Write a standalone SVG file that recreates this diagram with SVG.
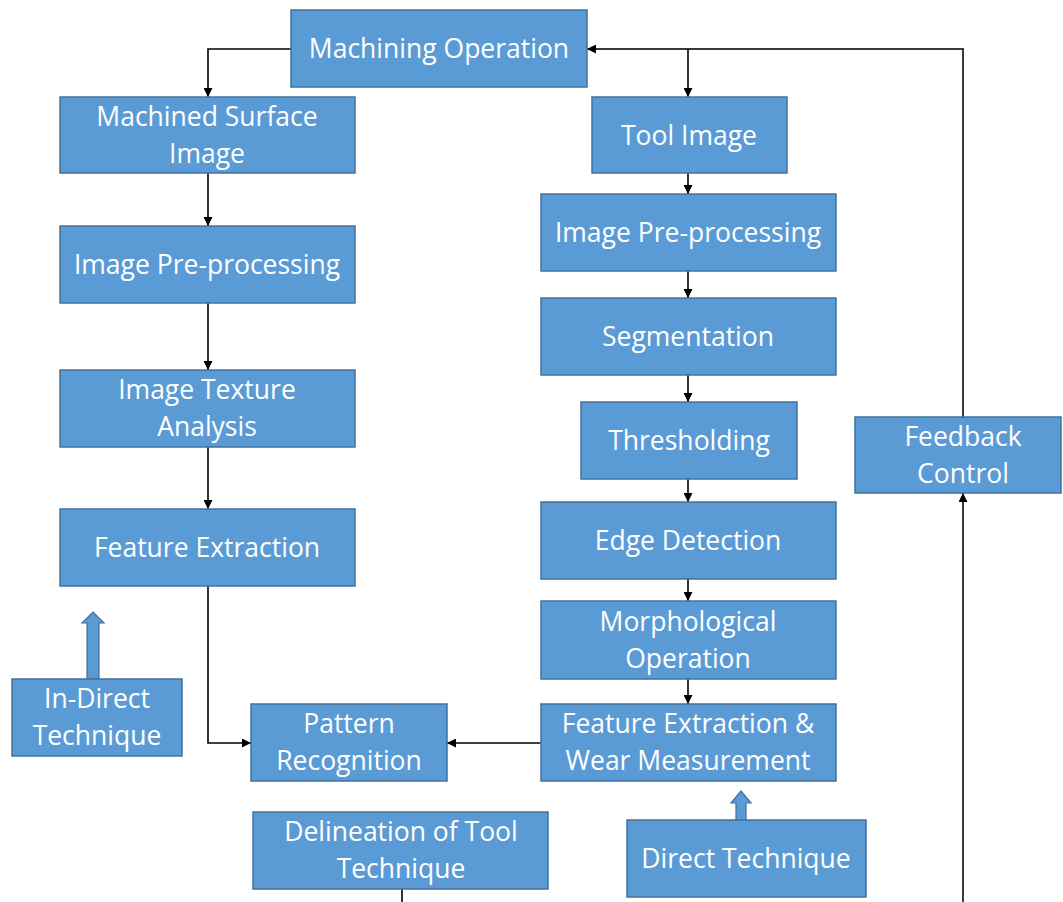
<svg xmlns="http://www.w3.org/2000/svg" width="1063" height="902" viewBox="0 0 1063 902">
<defs>
<marker id="ah" viewBox="0 0 10 10" refX="10" refY="5" markerWidth="9" markerHeight="9" markerUnits="userSpaceOnUse" orient="auto">
<path d="M0,0 L10,5 L0,10 Z" fill="#000"/>
</marker>
<style>
.box{fill:#5B9BD5;stroke:#41719C;stroke-width:1.5}
.t{font-family:"Open Sans","Liberation Sans",sans-serif;font-size:26.5px;fill:#fff;text-anchor:middle}
.c{fill:none;stroke:#000;stroke-width:1.6}
.c2{fill:none;stroke:#3a3a3a;stroke-width:2}
.big{fill:#5B9BD5;stroke:#41719C;stroke-width:1.2}
</style>
</defs>
<rect width="1063" height="902" fill="#fff"/>
<g id="connectors">
<polyline class="c" points="291,49 208,49 208,97" marker-end="url(#ah)"/>
<polyline class="c2" points="963,417 963,49 587,49" marker-end="url(#ah)"/>
<line class="c" x1="688" y1="49" x2="688" y2="97" marker-end="url(#ah)"/>
<line class="c" x1="208" y1="173" x2="208" y2="226" marker-end="url(#ah)"/>
<line class="c" x1="208" y1="303" x2="208" y2="370" marker-end="url(#ah)"/>
<line class="c" x1="208" y1="447" x2="208" y2="509" marker-end="url(#ah)"/>
<polyline class="c" points="208,586 208,743 251,743" marker-end="url(#ah)"/>
<line class="c" x1="688" y1="173" x2="688" y2="194" marker-end="url(#ah)"/>
<line class="c" x1="688" y1="271" x2="688" y2="298" marker-end="url(#ah)"/>
<line class="c" x1="688" y1="375" x2="688" y2="402" marker-end="url(#ah)"/>
<line class="c" x1="688" y1="479" x2="688" y2="502" marker-end="url(#ah)"/>
<line class="c" x1="688" y1="579" x2="688" y2="601" marker-end="url(#ah)"/>
<line class="c" x1="688" y1="679" x2="688" y2="704" marker-end="url(#ah)"/>
<line class="c" x1="541" y1="743" x2="447" y2="743" marker-end="url(#ah)"/>
<line class="c2" x1="963" y1="902" x2="963" y2="493" marker-end="url(#ah)"/>
<line class="c" x1="402" y1="889" x2="402" y2="902"/>
</g>
<g id="n-machining"><rect class="box" x="291" y="10" width="296" height="77"/><text class="t" x="439" y="58">Machining Operation</text></g>
<g id="n-surface"><rect class="box" x="60" y="97" width="295" height="76"/><text class="t" x="207" y="126">Machined Surface</text><text class="t" x="207" y="163">Image</text></g>
<g id="n-prep-left"><rect class="box" x="60" y="226" width="295" height="77"/><text class="t" x="207" y="274">Image Pre-processing</text></g>
<g id="n-texture"><rect class="box" x="60" y="370" width="295" height="77"/><text class="t" x="207" y="399">Image Texture</text><text class="t" x="207" y="436">Analysis</text></g>
<g id="n-feat-left"><rect class="box" x="60" y="509" width="295" height="77"/><text class="t" x="207" y="557">Feature Extraction</text></g>
<g id="n-indirect"><path class="big" d="M87,679 L87,623 L82,623 L93,612 L104,623 L99,623 L99,679 Z"/><rect class="box" x="12" y="679" width="170" height="77"/><text class="t" x="97" y="708">In-Direct</text><text class="t" x="97" y="745">Technique</text></g>
<g id="n-pattern"><rect class="box" x="251" y="704" width="196" height="77"/><text class="t" x="349" y="733">Pattern</text><text class="t" x="349" y="770">Recognition</text></g>
<g id="n-delineation"><rect class="box" x="253" y="812" width="295" height="77"/><text class="t" x="401" y="841">Delineation of Tool</text><text class="t" x="401" y="878">Technique</text></g>
<g id="n-toolimage"><rect class="box" x="592" y="97" width="195" height="76"/><text class="t" x="689" y="145">Tool Image</text></g>
<g id="n-prep-right"><rect class="box" x="541" y="194" width="295" height="77"/><text class="t" x="688" y="242">Image Pre-processing</text></g>
<g id="n-seg"><rect class="box" x="541" y="298" width="295" height="77"/><text class="t" x="688" y="346">Segmentation</text></g>
<g id="n-thresh"><rect class="box" x="581" y="402" width="216" height="77"/><text class="t" x="689" y="450">Thresholding</text></g>
<g id="n-edge"><rect class="box" x="541" y="502" width="295" height="77"/><text class="t" x="688" y="550">Edge Detection</text></g>
<g id="n-morph"><rect class="box" x="541" y="601" width="295" height="78"/><text class="t" x="688" y="631">Morphological</text><text class="t" x="688" y="668">Operation</text></g>
<g id="n-wear"><rect class="box" x="541" y="704" width="295" height="77"/><text class="t" x="688" y="733">Feature Extraction &amp;</text><text class="t" x="688" y="770">Wear Measurement</text></g>
<g id="n-direct"><path class="big" d="M736,820 L736,803 L731,803 L741,791 L751,803 L746,803 L746,820 Z"/><rect class="box" x="627" y="820" width="239" height="77"/><text class="t" x="746" y="868">Direct Technique</text></g>
<g id="n-feedback"><rect class="box" x="855" y="417" width="206" height="76"/><text class="t" x="963" y="446">Feedback</text><text class="t" x="963" y="483">Control</text></g>
</svg>
